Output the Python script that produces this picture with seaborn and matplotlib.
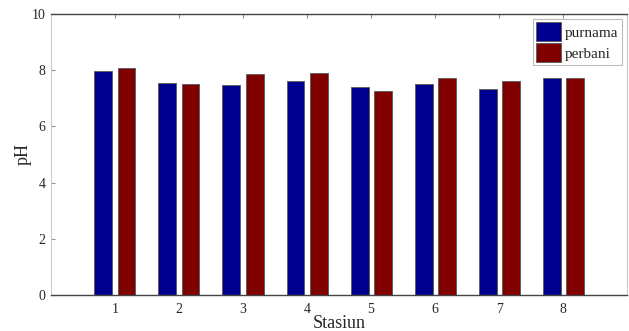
import pandas as pd
import numpy as np
import matplotlib
matplotlib.use('Agg')
import matplotlib.pyplot as plt
import seaborn as sns

# data
stasiun = ['1', '2', '3', '4', '5', '6', '7', '8']
purnama = [7.97, 7.53, 7.48, 7.63, 7.39, 7.50, 7.32, 7.71]
perbani = [8.06, 7.52, 7.87, 7.90, 7.25, 7.73, 7.63, 7.71]

df = pd.DataFrame({'Stasiun': stasiun * 2,
                   'pH': purnama + perbani,
                   'fase': ['purnama'] * len(stasiun) + ['perbani'] * len(stasiun)})

sns.set_style('white')
plt.rcParams['font.family'] = ['Liberation Serif', 'DejaVu Serif']

fig = plt.figure(figsize=(6.29, 3.31), dpi=100)
ax = fig.add_axes([0.081, 0.109, 0.916, 0.849])

sns.barplot(data=df, x='Stasiun', y='pH', hue='fase',
            palette=['#00008f', '#800000'], saturation=1,
            width=0.72, gap=0.22,
            edgecolor='#606060', linewidth=0.7, ax=ax)

ax.set_xlim(-1, 8)
ax.set_ylim(0, 10)
ax.set_yticks([0, 2, 4, 6, 8, 10])
ax.set_xlabel('Stasiun', fontsize=13, labelpad=-1)
ax.set_ylabel('pH', fontsize=13, labelpad=0)
ax.tick_params(axis='both', labelsize=10, direction='in', length=3,
               color='#909090')
ax.tick_params(axis='x', top=True, pad=6)
ax.tick_params(axis='y', left=True, pad=4)

for side in ['left', 'right']:
    ax.spines[side].set_color('#cccccc')
    ax.spines[side].set_linewidth(0.8)
for side in ['top', 'bottom']:
    ax.spines[side].set_color('#444444')
    ax.spines[side].set_linewidth(1.0)

leg = ax.legend(loc='upper right', fontsize=11, frameon=True, fancybox=False,
                edgecolor='#aaaaaa', handlelength=1.6, handleheight=1.5,
                handletextpad=0.3, borderpad=0.2, labelspacing=0.15,
                borderaxespad=0.35)
leg.get_frame().set_linewidth(0.8)

plt.savefig('out.png', dpi=100)
